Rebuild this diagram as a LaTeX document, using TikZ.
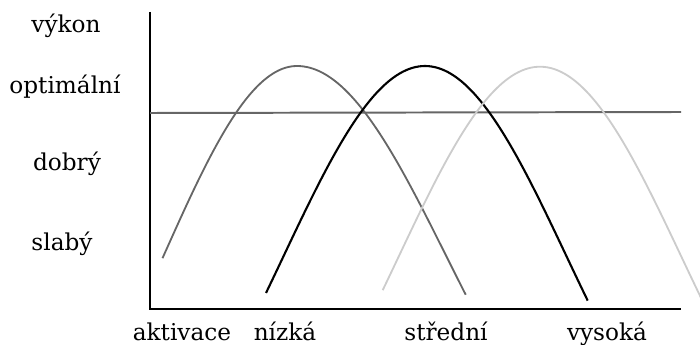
\documentclass[tikz,border=0pt]{standalone}
\usepackage{fontspec}
\setmainfont{DejaVu Serif}
\begin{document}
\begin{tikzpicture}[
        x=0.25mm, y=-0.25mm,
        % Etiquetas de los ejes
        etiqueta/.style={anchor=base, inner sep=0pt, font=\fontsize{16.5}{19}\selectfont},
        % Ejes y línea de referencia
        eje/.style={black, line width=1.6pt},
        referencia/.style={black!60, line width=1.4pt},
        % Curvas de rendimiento
        curva/.style={samples=100, line cap=round}
    ]
        \useasboundingbox (0,0) rectangle (700,345);

        % Puntos de los ejes
        \coordinate (ytop) at (150,12);
        \coordinate (origen) at (150,309);
        \coordinate (xend) at (681,309);
        \coordinate (refA) at (150,113);
        \coordinate (refB) at (681,112);

        % Etiquetas del eje vertical
        \node[etiqueta] (vykon) at (66,33) {výkon};
        \node[etiqueta] (optimalni) at (65,94) {optimální};
        \node[etiqueta] (dobry) at (67,171) {dobrý};
        \node[etiqueta] (slaby) at (62,250) {slabý};

        % Etiquetas del eje horizontal
        \node[etiqueta] (aktivace) at (182,340) {aktivace};
        \node[etiqueta] (nizka) at (285,340) {nízká};
        \node[etiqueta] (stredni) at (446,340) {střední};
        \node[etiqueta] (vysoka) at (607,340) {vysoká};

        % Ejes y línea de rendimiento óptimo
        \draw[eje] (ytop) -- (origen) -- (xend);
        \draw[referencia] (refA) -- (refB);

        % Curva de la tarea simple
        \draw[black!60, line width=1.3pt] plot[curva, domain=162.5:465.7]
            (\x, {66+190*(1-cos(deg((\x-297)/((\x<297)?85:95))))});
        % Curva de la tarea media
        \draw[black, line width=1.5pt] plot[curva, domain=266:587.7]
            (\x, {66+190*(1-cos(deg((\x-425)/90)))});
        % Curva de la tarea compleja
        \draw[black!20, line width=1.3pt] plot[curva, domain=382.7:703]
            (\x, {66.7+190*(1-cos(deg((\x-540)/90)))});

    \end{tikzpicture}
\end{document}
